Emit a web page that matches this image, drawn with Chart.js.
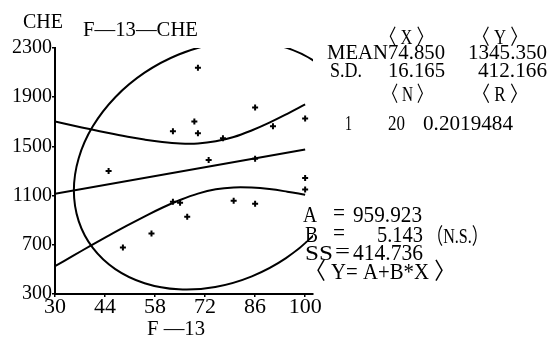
<!DOCTYPE html>
<html>
<head>
<meta charset="utf-8">
<script src="https://cdn.jsdelivr.net/npm/chart.js@4/dist/chart.umd.min.js"></script>
<style>
html,body{margin:0;padding:0;background:#fff;}
canvas{display:block;}
</style>
</head>
<body>
<canvas id="c" width="550" height="339"></canvas>
<script>
// ---- data ----
const xTicks = [30, 44, 58, 72, 86, 100];
const yTicks = [300, 700, 1100, 1500, 1900, 2300];

const pointsX = [70, 86, 69, 63, 70, 77, 73, 45, 63, 65, 67, 57, 49, 80, 86, 100, 100, 91, 86, 100];
const pointsY = [2139, 1816, 1703, 1623, 1606, 1566, 1389, 1300, 1050, 1042, 929, 792, 679, 1058, 1034, 1727, 1244, 1663, 1400, 1150];

const regX = [30, 100];
const regY = [1114.2, 1474.2];

const bandX = [30, 35, 40, 45, 50, 55, 60, 65, 70, 75, 80, 85, 90, 95, 100];
const bandUpper = [1702, 1670, 1639, 1609, 1581, 1556, 1536, 1524, 1524, 1541, 1576, 1629, 1693, 1765, 1841];
const bandLower = [526, 610, 693, 774, 853, 929, 1001, 1064, 1116, 1151, 1166, 1165, 1153, 1132, 1107];

const ellipseX = [114.42, 113.07, 109.12, 102.83, 94.64, 85.09, 74.85, 64.61, 55.07, 46.87, 40.58, 36.63, 35.28, 36.63, 40.58, 46.87, 55.07, 64.61, 74.85, 85.09, 94.64, 102.83, 109.12, 113.07, 114.42];
const ellipseY = [1549.1, 1797.9, 2015.9, 2188.2, 2303.0, 2352.6, 2333.6, 2247.2, 2099.3, 1900.1, 1663.1, 1404.4, 1141.7, 892.8, 674.9, 502.6, 387.7, 338.2, 357.2, 443.6, 591.5, 790.6, 1027.7, 1286.4, 1549.1];

// text annotations: [text, left, right, baseline, size]
const texts = [
  ["CHE", 23, 63, 28, 20],
  ["F—13—CHE", 83, 198, 36, 22],
  ["F —13", 147, 205, 335, 22],
  ["〈 X 〉", 380, 433, 44, 21],
  ["〈 Y 〉", 473, 527, 44, 21],
  ["MEAN74.850", 327, 445, 59, 22],
  ["1345.350", 468, 547, 59, 22],
  ["S.D.", 330, 362, 77, 22],
  ["16.165", 388, 445, 77, 22],
  ["412.166", 478, 547, 77, 22],
  ["〈 N 〉", 383, 432, 101, 21],
  ["〈 R 〉", 473, 527, 101, 21],
  ["1", 345, 352, 130, 22],
  ["20", 388, 405, 130, 22],
  ["0.2019484", 423, 513, 130, 22],
  ["A", 303, 317, 222, 24],
  ["=", 333, 345, 220, 24],
  ["959.923", 353, 422, 222, 24],
  ["B", 305, 318, 242, 24],
  ["=", 333, 345, 240, 24],
  ["5.143", 377, 423, 242, 24],
  ["（N.S.）", 427, 488, 243, 22],
  ["SS", 305, 333, 260, 22],
  ["=", 335, 350, 258, 22],
  ["414.736", 353, 423, 260, 24],
  ["〈 Y= A+B*X 〉", 305, 455, 279, 23]
];

const FONT = "'Liberation Serif', 'Noto Sans CJK JP', serif";

const textPlugin = {
  id: 'texts',
  afterDraw(chart) {
    const ctx = chart.ctx;
    ctx.save();
    ctx.fillStyle = '#000';
    ctx.textBaseline = 'alphabetic';
    ctx.textAlign = 'left';
    for (const [s, x1, x2, base, size] of texts) {
      ctx.font = size + 'px ' + FONT;
      const w = ctx.measureText(s).width;
      const sx = (x2 - x1) / w;
      ctx.save();
      ctx.translate(x1, base);
      ctx.scale(sx, 1);
      ctx.fillText(s, 0, 0);
      ctx.restore();
    }
    ctx.restore();
  }
};

const toXY = (xs, ys) => xs.map((x, i) => ({x: x, y: ys[i]}));

const lineDs = (data, tension) => ({
  data: data, showLine: true, pointRadius: 0, borderColor: '#000',
  borderWidth: 2, tension: tension, fill: false
});

new Chart(document.getElementById('c'), {
  type: 'scatter',
  data: {
    datasets: [
      {
        data: toXY(pointsX, pointsY), pointStyle: 'cross', pointRadius: 3,
        borderColor: '#000', backgroundColor: '#000', borderWidth: 2, showLine: false
      },
      lineDs(toXY(regX, regY), 0),
      lineDs(toXY(bandX, bandUpper), 0.4),
      lineDs(toXY(bandX, bandLower), 0.4),
      lineDs(toXY(ellipseX, ellipseY), 0.4)
    ]
  },
  options: {
    responsive: false,
    animation: false,
    layout: { padding: { left: 0, right: 237, top: 48, bottom: 0 } },
    plugins: { legend: { display: false }, tooltip: { enabled: false } },
    scales: {
      x: {
        type: 'linear', min: 30, max: 102.2,
        afterBuildTicks: s => { s.ticks = xTicks.map(v => ({value: v})); },
        afterFit: s => { s.height = 45; },
        ticks: { font: { family: FONT, size: 22 }, color: '#000', padding: -3, autoSkip: false, maxRotation: 0,
                 callback: v => String(v) },
        grid: { display: true, drawOnChartArea: false, drawTicks: true, tickLength: 3, color: '#000', lineWidth: 1.5 },
        border: { display: true, color: '#000', width: 2 }
      },
      y: {
        type: 'linear', min: 300, max: 2300,
        afterBuildTicks: s => { s.ticks = yTicks.map(v => ({value: v})); },
        afterFit: s => { s.width = 55; },
        ticks: { font: { family: FONT, size: 20 }, color: '#000', padding: 0, autoSkip: false,
                 callback: v => String(v) },
        grid: { display: true, drawOnChartArea: false, drawTicks: true, tickLength: 3, color: '#000', lineWidth: 1.5 },
        border: { display: true, color: '#000', width: 2 }
      }
    }
  },
  plugins: [textPlugin]
});
</script>
</body>
</html>
